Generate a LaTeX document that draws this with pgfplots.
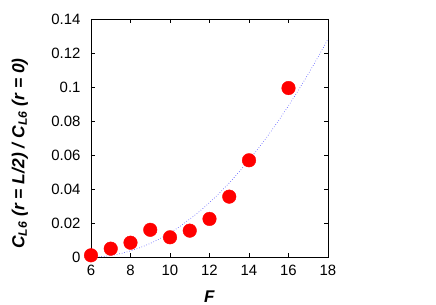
\documentclass[border=0pt]{standalone}
\usepackage{pgfplots}
\pgfplotsset{compat=1.18}
\usepackage{fontspec}
\setmainfont{Liberation Sans}
\usetikzlibrary{calc}
\begin{document}
\begin{tikzpicture}
\begin{axis}[
  scale only axis,
  width=237bp, height=238bp,
  xmin=6, xmax=18, ymin=0, ymax=0.14,
  xtick={6,8,...,18},
  ytick={0,0.02,0.04,0.06,0.08,0.1,0.12,0.14},
  tick align=inside,
  major tick length=4bp,
  axis line style={black, line width=0.6pt},
  tick style={black, line width=0.5pt},
  /pgf/number format/assume math mode=true,
  yticklabel style={/pgf/number format/fixed, /pgf/number format/precision=2, xshift=-7bp},
  xticklabel style={yshift=-5bp},
  scaled y ticks=false,
  ticklabel style={font=\fontsize{15}{17}\selectfont},
  xlabel={\textbf{\textit{F}}},
  ylabel={\textbf{\textit{C\textsubscript{L6} (r = L/2) / C\textsubscript{L6} (r = 0)}}},
  xlabel style={font=\fontsize{17}{19}\selectfont, at={(axis description cs:0.5,-0.168)}, anchor=center},
  ylabel style={font=\fontsize{17.5}{20}\selectfont, at={(axis description cs:-0.30,0.435)}, anchor=center, rotate=0},
  clip=false,
]
\addplot[blue!75, dotted, line width=0.6pt, smooth] coordinates {
(6,0) (6.5,0.00022) (7,0.00089) (7.5,0.0020) (8,0.0036) (8.5,0.0056)
(9,0.0080) (9.5,0.0109) (10,0.0142) (10.5,0.0180) (11,0.0223) (11.5,0.0269)
(12,0.0320) (12.5,0.0376) (13,0.0436) (13.5,0.0501) (14,0.0570) (14.5,0.0643)
(15,0.0721) (15.5,0.0803) (16,0.0890) (16.5,0.0981) (17,0.1077) (17.5,0.1177)
(18,0.1282)};
\addplot[only marks, mark=*, mark size=6.8bp, mark options={fill=red, draw=red}] coordinates {
(6,0.001) (7,0.0049) (8,0.0084) (9,0.016) (10,0.0116) (11,0.0155)
(12,0.0224) (13,0.0355) (14,0.0569) (16,0.0994)};
\end{axis}
\pgfresetboundingbox
\path ($(current axis.south west)+(-91bp,-48bp)$) rectangle ($(current axis.north east)+(108bp,19bp)$);
\end{tikzpicture}
\end{document}
